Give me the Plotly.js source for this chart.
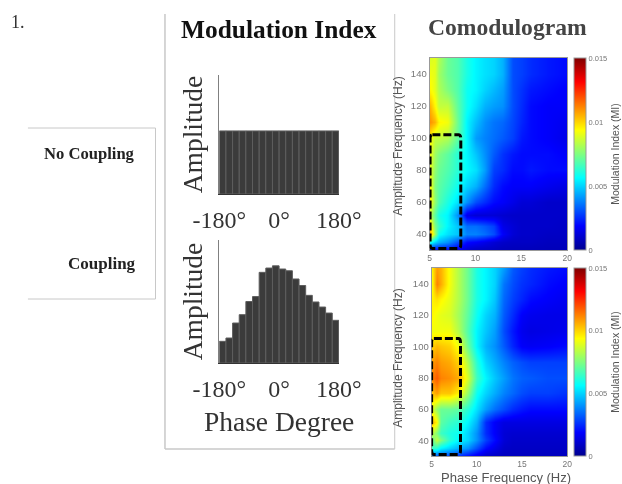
<!DOCTYPE html>
<html>
<head>
<meta charset="utf-8">
<script src="https://cdn.plot.ly/plotly-3.0.1.min.js"></script>
<style>html,body{margin:0;padding:0;background:#fff}#plot{width:622px;height:484px;filter:blur(0.5px)}</style>
</head>
<body>
<div id="plot"></div>
<script>
var phaseBins = [-170,-150,-130,-110,-90,-70,-50,-30,-10,10,30,50,70,90,110,130,150,170];
var ampNoCoupling = [.53,.53,.53,.53,.53,.53,.53,.53,.53,.53,.53,.53,.53,.53,.53,.53,.53,.53];
var ampCoupling = [.176,.203,.325,.393,.50,.54,.737,.772,.79,.764,.75,.683,.63,.55,.496,.455,.406,.347];
var phaseTickVals = [-180,0,180];
var phaseTickText = ['-180°','0°','180°'];

var phaseFreq = [5,5.5,6,7,8,9,10,11,12,13,14,15,16,18,20];
var ampFreq = [30,35,40,45,52,60,70,80,90,100,110,120,130,140,150];

var miNoCoupling = [
 [.0018,.0018,.0018,.0018,.0015,.001,.0008,.0008,.0008,.0007,.0007,.0007,.0007,.0007,.0007],
 [.006,.005,.0045,.004,.003,.002,.0018,.0015,.0012,.001,.0009,.0009,.0009,.0008,.0008],
 [.011,.008,.0058,.0052,.0048,.0038,.0038,.0035,.003,.0018,.0012,.001,.001,.0009,.0009],
 [.01,.0075,.0065,.0055,.0048,.0035,.0035,.0032,.0028,.0015,.0012,.001,.001,.001,.0009],
 [.0085,.007,.006,.0055,.004,.0015,.0012,.0012,.0012,.0011,.001,.001,.001,.001,.001],
 [.0095,.0078,.0068,.006,.0052,.004,.003,.0025,.002,.0018,.0015,.0012,.0012,.001,.001],
 [.0095,.0075,.007,.0065,.0058,.005,.0045,.0035,.0025,.002,.0018,.0018,.0018,.0016,.0014],
 [.009,.0078,.0072,.0068,.0062,.0056,.0052,.0042,.0028,.0025,.002,.002,.0022,.002,.002],
 [.0092,.008,.0075,.007,.0062,.0055,.0048,.004,.0032,.0026,.0022,.002,.002,.002,.0018],
 [.0095,.0085,.0085,.0082,.007,.0055,.0042,.0038,.0035,.0032,.0028,.0022,.002,.0018,.0015],
 [.011,.0105,.0095,.0092,.0072,.0055,.0047,.004,.0036,.0034,.0029,.0024,.002,.0018,.0016],
 [.0105,.0095,.0085,.0085,.007,.0058,.0052,.0045,.0042,.004,.003,.0025,.002,.0018,.0018],
 [.0095,.009,.0082,.0075,.0068,.0058,.0055,.005,.0046,.0042,.003,.0026,.0022,.002,.0018],
 [.0092,.009,.008,.0072,.0068,.006,.0055,.0052,.005,.0045,.003,.0028,.0025,.0022,.002],
 [.0088,.009,.0082,.0072,.0068,.006,.0055,.0052,.005,.0045,.003,.0028,.0025,.0022,.002]
];
var miCoupling = [
 [.003,.003,.003,.0028,.0025,.002,.0015,.001,.0009,.0008,.0008,.0008,.0008,.0008,.0008],
 [.0065,.0062,.0055,.005,.0045,.004,.003,.002,.0015,.001,.0009,.0009,.0009,.0009,.0009],
 [.007,.0085,.0075,.0062,.0055,.005,.004,.0028,.002,.0012,.001,.001,.001,.001,.001],
 [.0085,.0075,.0065,.006,.0058,.005,.004,.0025,.0018,.0012,.0011,.0011,.0011,.0011,.0011],
 [.0105,.0095,.007,.0065,.0062,.0055,.0045,.0025,.0018,.0014,.0014,.0014,.0014,.0014,.0014],
 [.009,.0078,.0072,.0072,.007,.0062,.0052,.0042,.0035,.003,.0025,.0022,.002,.002,.002],
 [.0102,.0108,.0102,.0102,.0095,.0078,.0058,.005,.0044,.0038,.0034,.003,.0028,.0028,.0026],
 [.0112,.0118,.0112,.0110,.0106,.0088,.0065,.0055,.0048,.0042,.0036,.0033,.0032,.003,.003],
 [.0108,.0112,.0108,.0106,.0100,.0082,.0062,.005,.0044,.0038,.0033,.003,.0028,.0028,.0028],
 [.0100,.0104,.0102,.0100,.0092,.0072,.0055,.0045,.004,.0032,.0024,.0018,.0017,.0018,.002],
 [.0092,.0092,.0092,.0092,.0082,.0068,.0055,.0048,.0042,.003,.0022,.0016,.0014,.0015,.0016],
 [.0095,.0092,.009,.0088,.008,.007,.0058,.005,.0045,.0032,.0025,.0018,.0016,.0015,.0015],
 [.0095,.0098,.0095,.009,.0082,.0072,.006,.0055,.0048,.0034,.0028,.0024,.002,.0018,.0016],
 [.0092,.0112,.0106,.0092,.0082,.0072,.006,.0055,.005,.0036,.003,.0026,.0024,.002,.0018],
 [.0095,.0108,.0105,.0092,.0082,.0072,.006,.0055,.005,.0042,.0032,.0028,.0025,.0022,.002]
];
var miTickVals = [0,.005,.01,.015];
var miTickText = ['0','0.005','0.01','0.015'];
var jet = [[0,'#00008f'],[.125,'#0000ff'],[.375,'#00ffff'],[.625,'#ffff00'],[.875,'#ff0000'],[1,'#800000']];

var W = 622, H = 484;
var SERIF = '"Liberation Serif", serif', SANS = '"Liberation Sans", Arial, sans-serif';
function dx(a,b){return [a/W,b/W];}
function dy(top,bot){return [1-bot/H,1-top/H];}

function barTrace(y,ax,ay){
  return {type:'bar',x:phaseBins,y:y,xaxis:ax,yaxis:ay,width:20,
    marker:{color:'#3b3b3b',line:{color:'#5e5e5e',width:1}},hoverinfo:'skip'};
}
function heat(z,ax,ay,top,bot){
  return {type:'heatmap',x:phaseFreq,y:ampFreq,z:z,xaxis:ax,yaxis:ay,zsmooth:'best',
    colorscale:jet,zmin:0,zmax:.015,
    colorbar:{x:576/W,xanchor:'left',xpad:0,ypad:0,thickness:12,
      y:1-bot/H,yanchor:'bottom',len:(bot-top)/H,lenmode:'fraction',
      tickmode:'array',tickvals:miTickVals,ticktext:miTickText,ticks:'',
      tickfont:{family:SANS,size:7.5,color:'#777'},outlinecolor:'#999',outlinewidth:1,
      title:{text:'Modulation Index (MI)',side:'right',font:{family:SANS,size:10.5,color:'#555'}}}};
}
var data = [
  barTrace(ampNoCoupling,'x','y'),
  barTrace(ampCoupling,'x2','y2'),
  heat(miNoCoupling,'x3','y3',58,250),
  heat(miCoupling,'x4','y4',268,456)
];

function barX(dom,anchor,title){
  var o = {domain:dom,anchor:anchor,range:[-180,180],tickmode:'array',tickvals:phaseTickVals,ticktext:phaseTickText,
    tickfont:{family:SERIF,size:24,color:'#333'},ticks:'outside',ticklen:4,tickcolor:'rgba(0,0,0,0)',
    showgrid:false,zeroline:false,showline:true,linecolor:'#333',linewidth:1};
  if(title) o.title = {text:title,font:{family:SERIF,size:27.5,color:'#333'},standoff:10};
  return o;
}
function barY(dom,anchor){
  return {domain:dom,anchor:anchor,range:[0,1],showticklabels:false,ticks:'',showgrid:false,zeroline:false,
    showline:true,linecolor:'#808080',linewidth:1,
    title:{text:'Amplitude',font:{family:SERIF,size:27.5,color:'#333'},standoff:7}};
}
function heatX(dom,anchor){
  return {domain:dom,anchor:anchor,range:[5,20],tickvals:[5,10,15,20],ticks:'',tickfont:{family:SANS,size:8.5,color:'#777'},
    showgrid:false,zeroline:false,showline:true,mirror:true,linecolor:'#999',linewidth:1};
}
function heatY(dom,anchor){
  return {domain:dom,anchor:anchor,range:[30,150],tickvals:[40,60,80,100,120,140],ticks:'',tickfont:{family:SANS,size:9.5,color:'#777'},
    showgrid:false,zeroline:false,showline:true,mirror:true,linecolor:'#999',linewidth:1};
}
function dashBox(ax,ay,x0,x1,y0,y1){
  var rx=.25, ry=2.5;
  return {type:'path',xref:ax,yref:ay,layer:'above',line:{color:'#000',width:3,dash:'8px,3px'},
    path:'M '+(x0+rx)+' '+y1+' L '+(x1-rx)+' '+y1+' Q '+x1+' '+y1+' '+x1+' '+(y1-ry)+
         ' L '+x1+' '+(y0+ry)+' Q '+x1+' '+y0+' '+(x1-rx)+' '+y0+
         ' L '+(x0+rx)+' '+y0+' Q '+x0+' '+y0+' '+x0+' '+(y0+ry)+
         ' L '+x0+' '+(y1-ry)+' Q '+x0+' '+y1+' '+(x0+rx)+' '+y1+' Z'};
}
function line(x0,y0,x1,y1,c,w){
  return {type:'line',xref:'paper',yref:'paper',x0:x0/W,x1:x1/W,y0:1-y0/H,y1:1-y1/H,line:{color:c,width:w}};
}
function label(t,x,y,font,size,color,bold,anchor,angle){
  return {text:bold?'<b>'+t+'</b>':t,xref:'paper',yref:'paper',x:x/W,y:1-y/H,showarrow:false,
    xanchor:anchor||'center',yanchor:'middle',textangle:angle||0,
    font:{family:font,size:size,color:color}};
}
var layout = {
  width:W,height:H,margin:{l:0,r:0,t:0,b:0},paper_bgcolor:'#fff',plot_bgcolor:'#fff',showlegend:false,
  bargap:0,
  xaxis:barX(dx(220,340),'y'),yaxis:barY(dy(75,194),'x'),
  xaxis2:barX(dx(220,340),'y2','Phase Degree'),yaxis2:barY(dy(240,363),'x2'),
  xaxis3:heatX(dx(431,569),'y3'),yaxis3:heatY(dy(58,250),'x3'),
  xaxis4:heatX(dx(433,569),'y4'),yaxis4:heatY(dy(268,456),'x4'),
  shapes:[
    line(165.5,14,165.5,449,'#c8c8c8',1.5),
    line(165.5,449,396,449,'#c8c8c8',1.5),
    line(396,14,396,449,'#c8c8c8',1),
    line(28,128,156,128,'#c8c8c8',1),
    line(156,128,156,299,'#c8c8c8',1),
    line(28,299,156,299,'#c8c8c8',1),
    dashBox('x3','y3',5.05,8.4,31,102),
    dashBox('x4','y4',5,8.2,31,105)
  ],
  annotations:[
    label('1.',18,22,SERIF,18,'#333'),
    label('Modulation Index',280,29,SERIF,25.4,'#111',true),
    label('Comodulogram',509,27,SERIF,23.6,'#444',true),
    label('No Coupling',137,153,SERIF,16.6,'#222',true,'right'),
    label('Coupling',138,263,SERIF,17,'#222',true,'right'),
    label('Amplitude Frequency (Hz)',399,146,SANS,12,'#555',false,'center',-90),
    label('Amplitude Frequency (Hz)',399,358,SANS,12,'#555',false,'center',-90),
    label('Phase Frequency (Hz)',508,477,SANS,13,'#555')
  ]
};
Plotly.newPlot('plot',data,layout,{displayModeBar:false,staticPlot:true});
</script>
</body>
</html>
